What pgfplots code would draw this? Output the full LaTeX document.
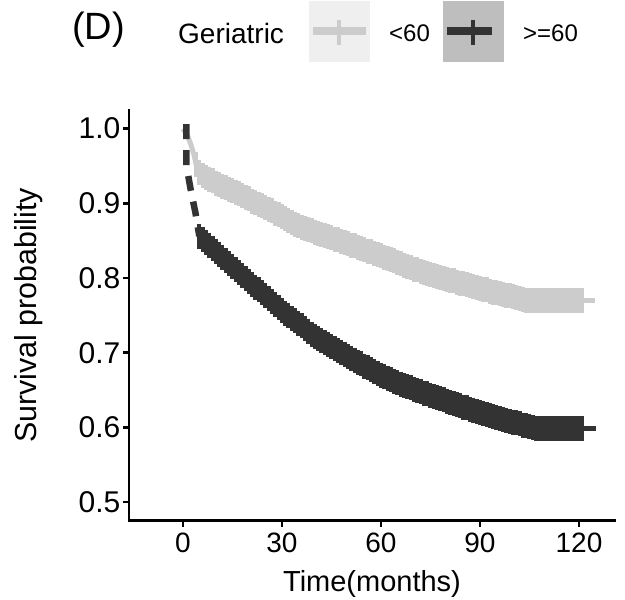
\documentclass[border=0pt]{standalone}
\usepackage{fontspec}
\setmainfont{Liberation Sans}
\usepackage{pgfplots}
\usepackage{pgfplotstable}
\pgfplotsset{compat=1.18}
\definecolor{lightc}{HTML}{CCCCCC}
\definecolor{darkc}{HTML}{333333}
\definecolor{lightbox}{HTML}{EFEFEF}
\definecolor{darkbox}{HTML}{BEBEBE}

% <60 group: survival estimate at monthly censoring marks
\pgfplotstableread{
m v
4 0.952
5 0.941
6 0.937
7 0.935
8 0.932
9 0.930
10 0.927
11 0.925
12 0.923
13 0.921
14 0.919
15 0.917
16 0.915
17 0.913
18 0.910
19 0.908
20 0.906
21 0.903
22 0.901
23 0.899
24 0.897
25 0.894
26 0.892
27 0.890
28 0.887
29 0.885
30 0.882
31 0.880
32 0.877
33 0.875
34 0.872
35 0.870
36 0.868
37 0.866
38 0.865
39 0.863
40 0.861
41 0.860
42 0.858
43 0.857
44 0.855
45 0.854
46 0.852
47 0.851
48 0.849
49 0.848
50 0.846
51 0.844
52 0.843
53 0.841
54 0.840
55 0.838
56 0.836
57 0.835
58 0.833
59 0.832
60 0.830
61 0.828
62 0.826
63 0.825
64 0.823
65 0.821
66 0.819
67 0.817
68 0.816
69 0.814
70 0.812
71 0.811
72 0.809
73 0.808
74 0.806
75 0.805
76 0.804
77 0.802
78 0.801
79 0.799
80 0.798
81 0.797
82 0.796
83 0.794
84 0.793
85 0.792
86 0.791
87 0.790
88 0.788
89 0.787
90 0.786
91 0.785
92 0.784
93 0.782
94 0.781
95 0.780
96 0.779
97 0.778
98 0.777
99 0.776
100 0.775
101 0.774
102 0.773
103 0.771
104 0.770
105 0.770
106 0.770
107 0.770
108 0.770
109 0.770
110 0.770
111 0.770
112 0.770
113 0.770
114 0.770
115 0.770
116 0.770
117 0.770
118 0.770
119 0.770
120 0.770
121 0.770
}\lighttab

% >=60 group
\pgfplotstableread{
m v
5 0.856
6 0.852
7 0.848
8 0.844
9 0.840
10 0.836
11 0.832
12 0.828
13 0.823
14 0.819
15 0.815
16 0.811
17 0.807
18 0.803
19 0.799
20 0.795
21 0.791
22 0.787
23 0.784
24 0.780
25 0.776
26 0.772
27 0.768
28 0.765
29 0.761
30 0.757
31 0.753
32 0.750
33 0.746
34 0.743
35 0.739
36 0.736
37 0.732
38 0.729
39 0.725
40 0.722
41 0.719
42 0.716
43 0.714
44 0.711
45 0.708
46 0.705
47 0.703
48 0.700
49 0.698
50 0.695
51 0.692
52 0.690
53 0.687
54 0.685
55 0.682
56 0.680
57 0.677
58 0.675
59 0.672
60 0.670
61 0.668
62 0.666
63 0.664
64 0.662
65 0.660
66 0.658
67 0.656
68 0.655
69 0.653
70 0.651
71 0.649
72 0.648
73 0.646
74 0.645
75 0.643
76 0.641
77 0.640
78 0.638
79 0.637
80 0.635
81 0.633
82 0.632
83 0.630
84 0.629
85 0.627
86 0.626
87 0.624
88 0.623
89 0.621
90 0.620
91 0.619
92 0.617
93 0.616
94 0.614
95 0.613
96 0.612
97 0.611
98 0.609
99 0.608
100 0.607
101 0.606
102 0.605
103 0.603
104 0.602
105 0.601
106 0.600
107 0.599
108 0.598
109 0.598
110 0.598
111 0.598
112 0.598
113 0.598
114 0.598
115 0.598
116 0.598
117 0.598
118 0.598
119 0.598
120 0.598
121 0.598
}\darktab

\begin{document}
\begin{tikzpicture}
\path[use as bounding box] (0bp,0bp) rectangle (625bp,600bp);
\begin{axis}[
  at={(129bp,79.3bp)}, anchor=south west,
  width=486bp, height=410.7bp, scale only axis,
  xmin=-16.3, xmax=130.9, ymin=0.475, ymax=1.025,
  axis x line=bottom, axis y line=left,
  axis line style={line width=2.5bp, -, line cap=rect, black},
  xtick={0,30,60,90,120},
  ytick={0.5,0.6,0.7,0.8,0.9,1.0},
  tick align=outside, major tick length=6bp,
  tick style={line width=2.5bp, black},
  /pgf/number format/assume math mode=true,
  yticklabel style={/pgf/number format/.cd, fixed, fixed zerofill, precision=1, /tikz/.cd, inner sep=2.5bp, font=\fontsize{30bp}{33bp}\selectfont},
  xticklabel style={inner sep=6.5bp, font=\fontsize{28bp}{31bp}\selectfont},
  ticklabel style={text=black},
  xlabel={Time(months)}, ylabel={Survival probability},
  xlabel style={font=\fontsize{29bp}{32bp}\selectfont, at={(axis description cs:0.5,-0.1712)}, anchor=base},
  ylabel style={font=\fontsize{30.4bp}{33bp}\selectfont, at={(axis description cs:-0.1903,0.5)}, anchor=base},
]
% <60
\addplot[lightc, line width=5bp, line join=round] coordinates {(0,1.0)(1.5,0.99)(2.5,0.978)(3.5,0.963)(4,0.952)};
\addplot[lightc, line width=5bp, line join=round, mark=|, mark size=12.5bp, mark options={line width=4bp, solid}] table[x=m, y=v] {\lighttab};
\addplot[lightc, line width=5bp] coordinates {(121,0.770)(124.8,0.770)};
% >=60
\addplot[darkc, line width=6.5bp, dash pattern=on 15bp off 11bp] coordinates {(1.1,1.006)(1.1,0.95)(2.4,0.918)(3.8,0.888)(5,0.856)};
\addplot[darkc, line width=5bp, line join=round, mark=|, mark size=12.5bp, mark options={line width=4bp, solid}] table[x=m, y=v] {\darktab};
\addplot[darkc, line width=5bp] coordinates {(121,0.598)(125.2,0.598)};
\end{axis}
% legend
\node[anchor=base west, inner sep=0pt, font=\fontsize{38bp}{40bp}\selectfont] at (72bp,560.7bp) {(D)};
\node[anchor=base west, inner sep=0pt, font=\fontsize{28bp}{30bp}\selectfont] at (178bp,556.7bp) {Geriatric};
\fill[lightbox] (309bp,538bp) rectangle (370bp,599bp);
\draw[lightc, line width=8bp] (312.7bp,568.8bp) -- (366bp,568.8bp);
\draw[lightc, line width=4bp] (338.8bp,555bp) -- (338.8bp,580bp);
\node[anchor=base west, inner sep=0pt, font=\fontsize{24bp}{26bp}\selectfont] at (389bp,558.3bp) {<60};
\fill[darkbox] (443bp,538bp) rectangle (504bp,599bp);
\draw[darkc, line width=8bp] (446.7bp,568.8bp) -- (491.7bp,568.8bp);
\draw[darkc, line width=4bp] (472.5bp,555bp) -- (472.5bp,580bp);
\node[anchor=base west, inner sep=0pt, font=\fontsize{24bp}{26bp}\selectfont] at (523bp,558.3bp) {>=60};
\end{tikzpicture}
\end{document}
